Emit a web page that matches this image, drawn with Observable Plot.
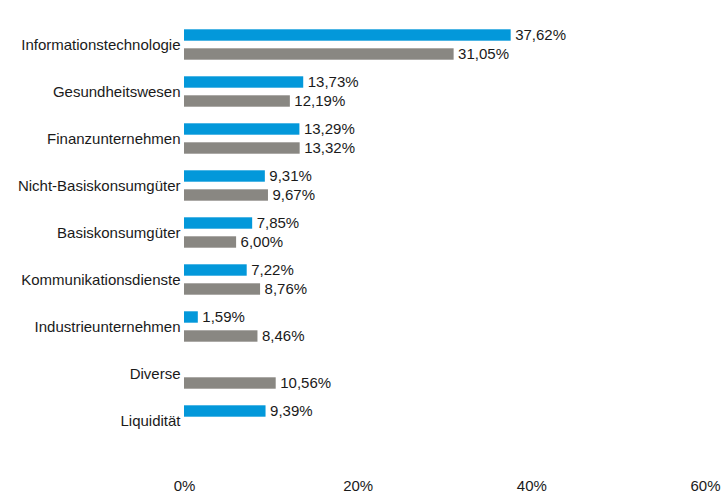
<!DOCTYPE html>
<html>
<head>
<meta charset="utf-8">
<script src="https://cdn.jsdelivr.net/npm/d3@7"></script>
<script src="https://cdn.jsdelivr.net/npm/@observablehq/plot@0.6"></script>
<style>
  html, body { margin: 0; padding: 0; background: #fff; }
  svg { display: block; }
</style>
</head>
<body>
<div id="chart"></div>
<script>
const categories = ["Informationstechnologie", "Gesundheitswesen", "Finanzunternehmen", "Nicht-Basiskonsumgüter", "Basiskonsumgüter", "Kommunikationsdienste", "Industrieunternehmen", "Diverse", "Liquidität"];
const fund = [37.62, 13.73, 13.29, 9.31, 7.85, 7.22, 1.59, null, 9.39];
const benchmark = [31.05, 12.19, 13.32, 9.67, 6.00, 8.76, 8.46, 10.56, null];
const xTicks = [0, 20, 40, 60];

const fundRows = categories.map((c, i) => ({category: c, value: fund[i]})).filter(d => d.value != null);
const benchRows = categories.map((c, i) => ({category: c, value: benchmark[i]})).filter(d => d.value != null);

const loc = d3.formatLocale({decimal: ",", thousands: ".", grouping: [3], currency: ["", "€"]});
const f2 = loc.format(".2f");
const fmt = v => f2(v) + "%";

const blue = "#0398DA";
const gray = "#898782";
const font = "Liberation Sans, Arial, sans-serif";

const chart = Plot.plot({
  width: 721,
  height: 494,
  marginTop: 0,
  marginBottom: 24,
  marginLeft: 184,
  marginRight: 16,
  style: {fontFamily: font, fontSize: "15px", color: "#1a1a1a", background: "#fff"},
  x: {domain: [0, 60], ticks: xTicks, tickFormat: d => d + "%", label: null, grid: false},
  y: {domain: categories, range: [18.2, 446.3], padding: 0, label: null},
  marks: [
    Plot.ruleX(xTicks, {stroke: "#ebebeb", strokeWidth: 1.5, y1: 0, y2: 470}),
    Plot.barX(fundRows, {x: "value", y: "category", fill: blue, insetTop: 8.3, insetBottom: 27.3}),
    Plot.barX(benchRows, {x: "value", y: "category", fill: gray, insetTop: 27.3, insetBottom: 8.3}),
    Plot.text(fundRows, {x: "value", y: "category", text: d => fmt(d.value), dx: 4, dy: -9.5, textAnchor: "start", fill: "#1a1a1a", fontSize: 15}),
    Plot.text(benchRows, {x: "value", y: "category", text: d => fmt(d.value), dx: 4, dy: 9.5, textAnchor: "start", fill: "#1a1a1a", fontSize: 15}),
    Plot.axisY({tickSize: 0, tickPadding: 4, fontSize: 15, label: null}),
    Plot.axisX({ticks: xTicks, tickFormat: d => d + "%", tickSize: 0, tickPadding: 10, fontSize: 15, label: null})
  ]
});
document.getElementById("chart").appendChild(chart);
</script>
</body>
</html>
